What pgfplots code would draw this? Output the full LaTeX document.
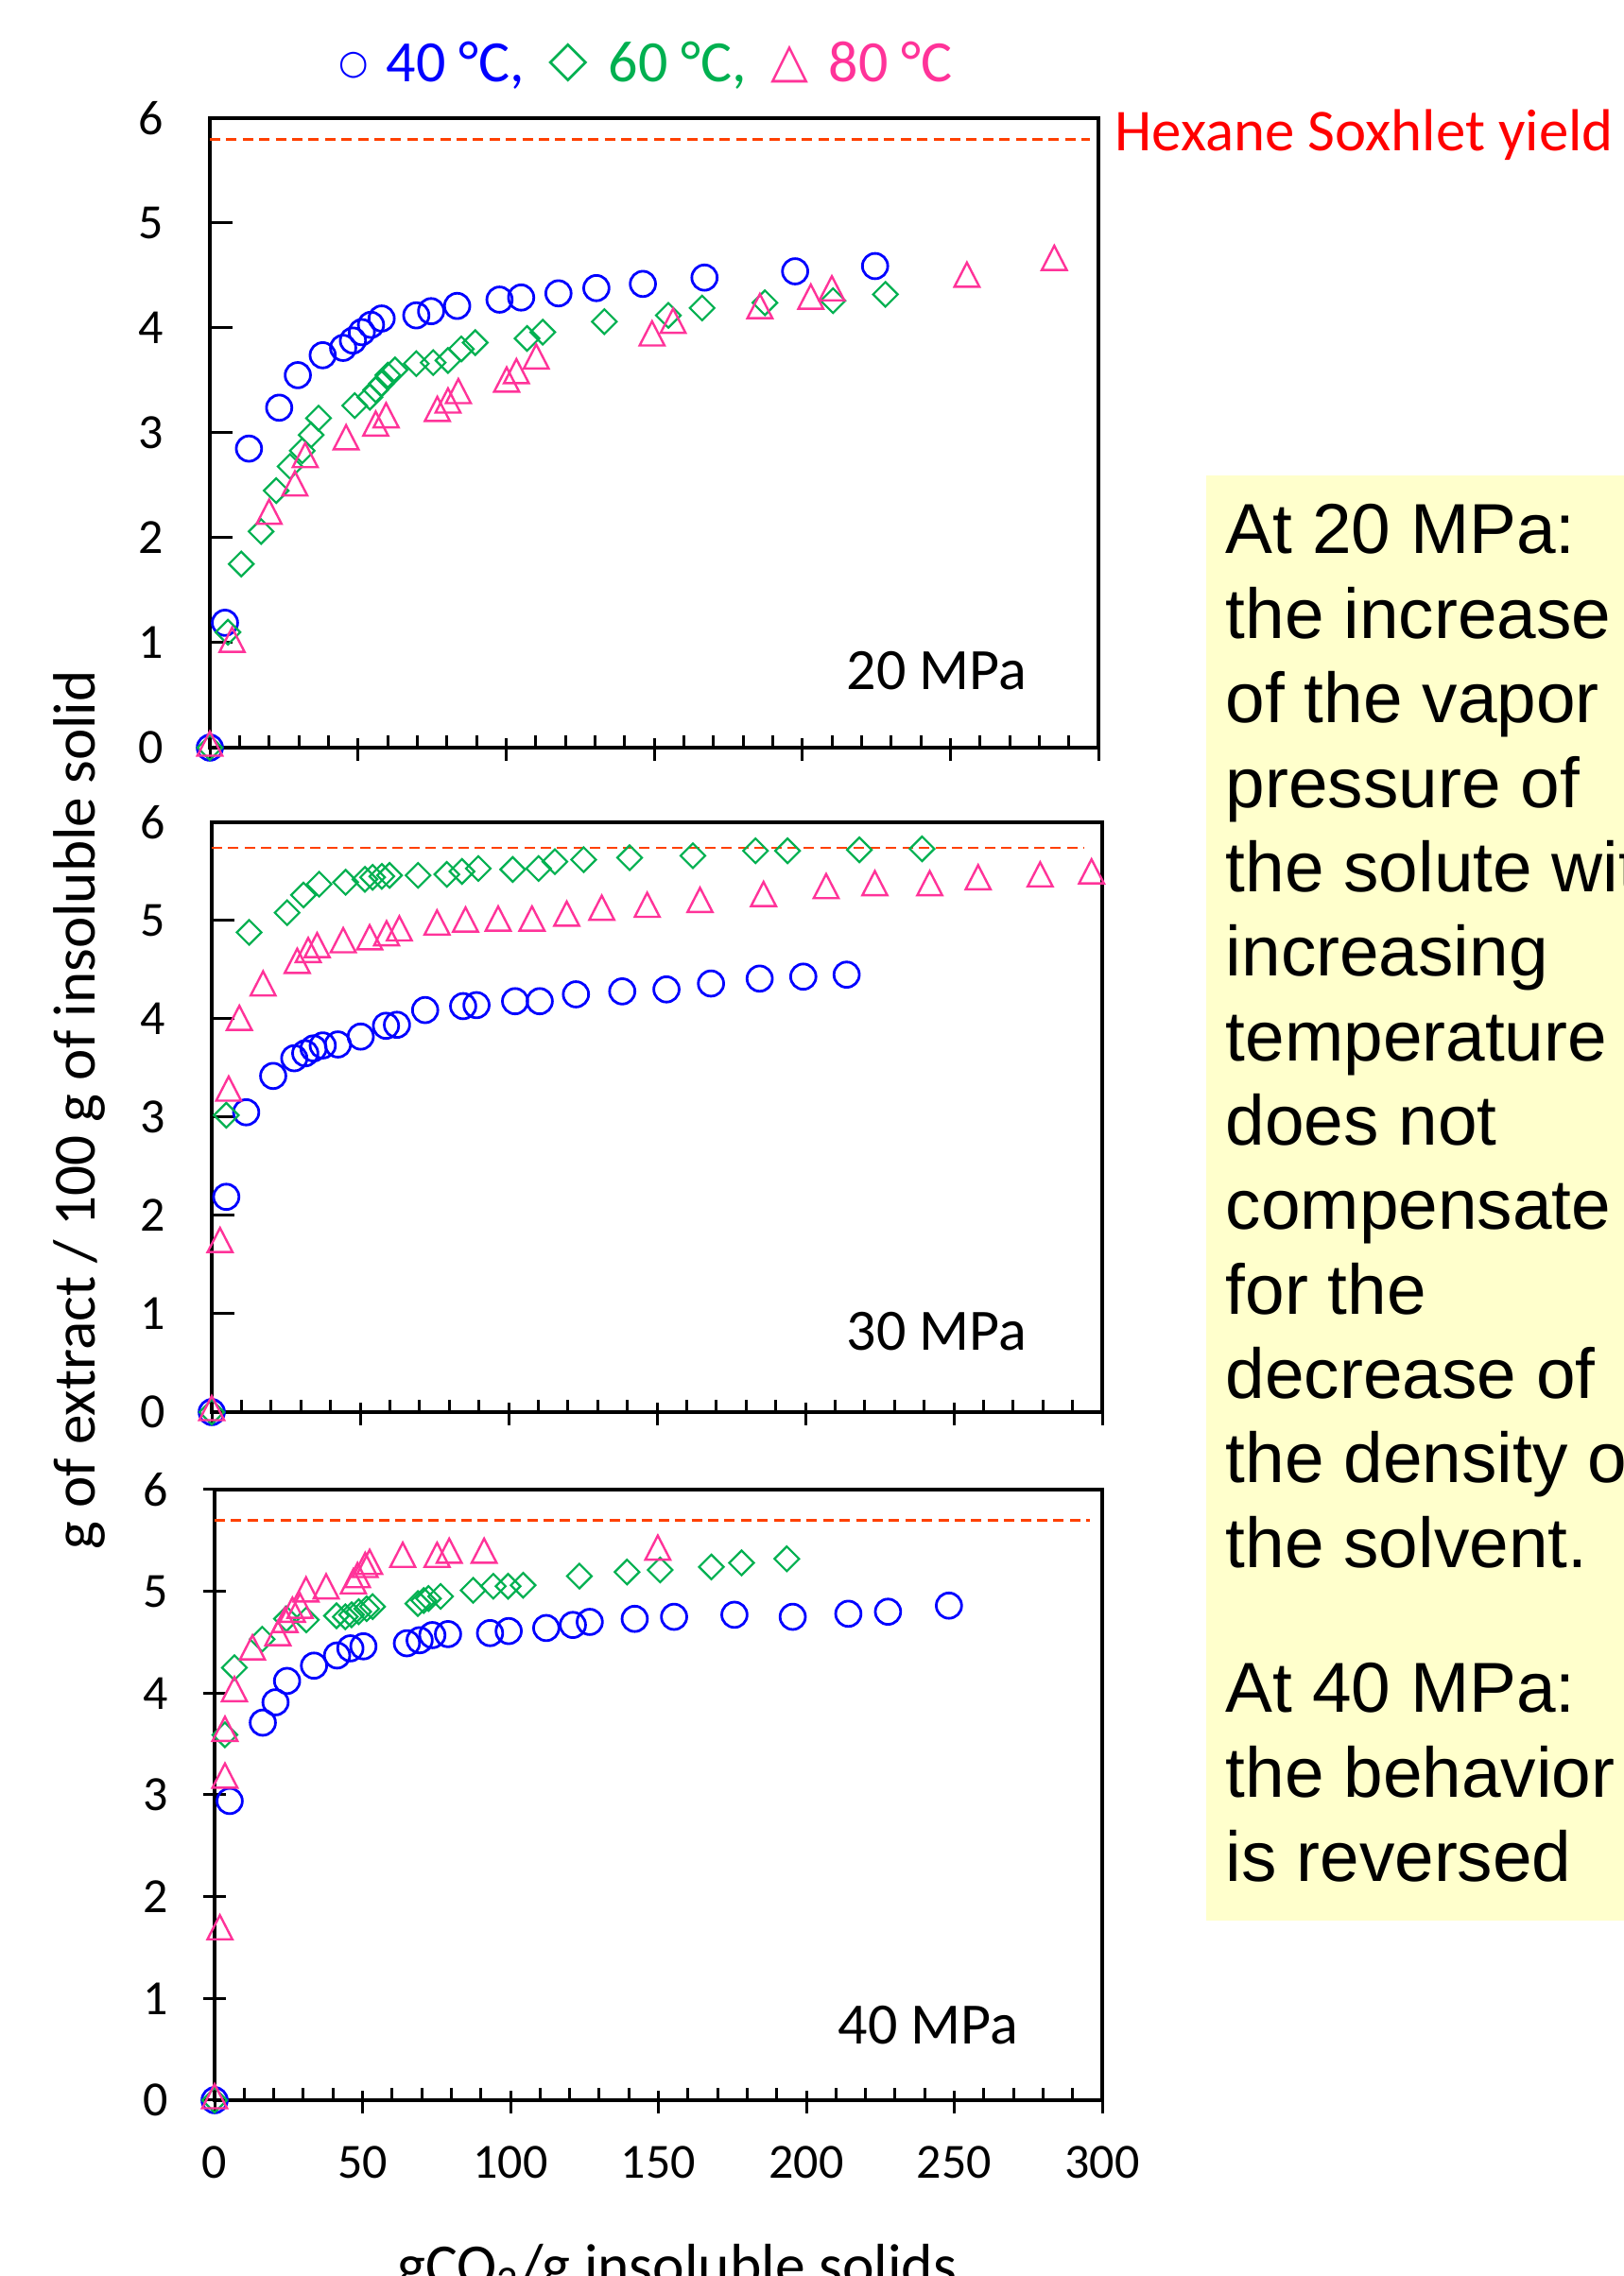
\documentclass[border=0pt]{standalone}
\usepackage{pgfplots}
\pgfplotsset{compat=1.18}
\usepackage{fontspec}
\setmainfont{Carlito}
\newfontfamily\arialf{Liberation Sans}
\newfontfamily\symf{DejaVu Sans}
\definecolor{cA}{RGB}{0,0,255}
\definecolor{cB}{RGB}{0,176,80}
\definecolor{cC}{RGB}{255,51,153}
\definecolor{cD}{RGB}{255,64,0}
\definecolor{cY}{RGB}{255,255,204}
\tikzset{plab/.style={anchor=base west, inner sep=0pt, font=\fontsize{15.5}{18}\selectfont}}
\pgfplotsset{
  panel/.style={
    scale only axis, clip=false, anchor=south west,
    xmin=0, xmax=300, ymin=0, ymax=6,
    xtick={0,50,...,300}, ytick={0,1,...,6},
    minor x tick num=4,
    tick pos=left, tick align=center,
    major tick length=6pt, minor tick length=3.25pt,
    axis line style={line width=1pt},
    tick style={black, line width=0.75pt},
    minor x tick style={yshift=1.625pt},
    major x tick style={yshift=-0.5pt},
    major y tick style={xshift=3pt},
    /pgf/number format/assume math mode=true,
    ticklabel style={font=\fontsize{13}{15}\selectfont},
    yticklabel style={inner sep=0pt, xshift=-9pt},
    xticklabel style={inner sep=0pt, yshift=-9pt},
  },
  s40/.style={only marks, mark=o, mark size=3.35pt, mark options={draw=cA, line width=0.7pt}},
  s60/.style={only marks, mark=square, mark size=2.3pt, mark options={draw=cB, rotate=45, line width=0.55pt}},
  s80/.style={only marks, mark=triangle, mark size=3.8pt, mark options={draw=cC, yscale=1.12, line width=0.6pt}},
  hex/.style={cD, line width=0.68pt, dash pattern=on 2.75pt off 1.6pt, no marks},
}
\begin{document}
\begin{tikzpicture}
% note box
\fill[cY] (319pt,94pt) rectangle (440pt,476.25pt);
\begin{scope}[every node/.style={anchor=base west, inner sep=0pt, font=\arialf\fontsize{18.7}{22}\selectfont}]
\node at (324pt,455.5pt) {At 20 MPa:};
\node at (324pt,433.16pt) {the increase};
\node at (324pt,410.83pt) {of the vapor};
\node at (324pt,388.49pt) {pressure of};
\node at (324pt,366.15pt) {the solute with};
\node at (324pt,343.81pt) {increasing};
\node at (324pt,321.48pt) {temperature};
\node at (324pt,299.14pt) {does not};
\node at (324pt,276.80pt) {compensate};
\node at (324pt,254.46pt) {for the};
\node at (324pt,232.13pt) {decrease of};
\node at (324pt,209.79pt) {the density of};
\node at (324pt,187.45pt) {the solvent.};
\node at (324pt,149.05pt) {At 40 MPa:};
\node at (324pt,126.7pt) {the behavior};
\node at (324pt,104.35pt) {is reversed};
\end{scope}
% legend text
\begin{scope}[every node/.style={inner sep=0pt}]
\node[text=cA, font=\symf\fontsize{9}{11}\selectfont] at (93.5pt,584.75pt) {○};
\node[text=cB, font=\symf\fontsize{13.5}{15}\selectfont] at (150.25pt,585.25pt) {◇};
\node[text=cC, font=\symf\fontsize{13}{15}\selectfont] at (208.9pt,585pt) {△};
\node[anchor=base west, text=cA, font=\fontsize{15.5}{18}\selectfont] at (102pt,580.25pt) {40 °C,};
\node[anchor=base west, text=cB, font=\fontsize{15.5}{18}\selectfont] at (160.75pt,580.25pt) {60 °C,};
\node[anchor=base west, text=cC, font=\fontsize{15.5}{18}\selectfont] at (219pt,580.25pt) {80 °C};
\end{scope}
\node[anchor=base west, inner sep=0pt, text=red, font=\fontsize{15.7}{18}\selectfont] at (294.75pt,562pt) {Hexane Soxhlet yield};
\node[anchor=base, inner sep=0pt, rotate=90, font=\fontsize{15.8}{18}\selectfont] at (25pt,308.4pt) {g of extract / 100 g of insoluble solid};
\node[anchor=base, inner sep=0pt, font=\fontsize{15.9}{18}\selectfont] at (181.1pt,-2.5pt) {gCO\textsubscript{2}/g insoluble solids.};

% ---------- 20 MPa ----------
\begin{axis}[panel, at={(55.5pt,404.25pt)}, width=235pt, height=166.5pt, xticklabels={}]
\addplot[hex] coordinates {(0,5.80) (297,5.80)};
\addplot[s40] coordinates {(0,0) (5.1,1.19) (13.2,2.85) (23.4,3.24) (29.7,3.55) (38.1,3.74) (45.0,3.81) (48.3,3.88) (51.3,3.96) (54.4,4.03) (58.0,4.09) (69.7,4.12) (74.7,4.16) (83.5,4.21) (97.8,4.27) (105.1,4.29) (117.7,4.33) (130.5,4.38) (146.2,4.42) (167.0,4.48) (197.6,4.54) (224.6,4.59)};
\addplot[s60] coordinates {(0,0) (6.1,1.10) (10.6,1.75) (17.3,2.06) (22.4,2.45) (27.1,2.68) (31.2,2.83) (34.2,2.98) (36.7,3.14) (48.9,3.26) (54.0,3.34) (56.0,3.41) (58.0,3.47) (60.1,3.55) (62.5,3.60) (69.7,3.66) (75.4,3.67) (80.4,3.69) (84.9,3.80) (89.6,3.86) (107.1,3.90) (112.4,3.96) (133.2,4.06) (154.8,4.12) (166.2,4.19) (187.4,4.24) (210.4,4.26) (228.1,4.32)};
\addplot[s80] coordinates {(0,0) (7.5,0.99) (20.0,2.21) (28.7,2.48) (32.2,2.75) (46.0,2.92) (56.0,3.05) (59.5,3.13) (76.8,3.19) (80.4,3.27) (83.9,3.36) (100.2,3.47) (103.5,3.55) (110.2,3.69) (149.3,3.91) (156.4,4.03) (185.7,4.17) (202.9,4.26) (210.0,4.34) (255.6,4.47) (285.1,4.63)};
\node[plab] at (axis cs:214.8,0.55) {20 MPa};
\end{axis}

% ---------- 30 MPa ----------
\begin{axis}[panel, at={(56pt,228.5pt)}, width=235.5pt, height=156pt, xticklabels={}]
\addplot[hex] coordinates {(0,5.74) (294,5.74)};
\addplot[s40] coordinates {(0,0) (4.9,2.19) (11.6,3.05) (20.7,3.42) (27.8,3.60) (31.5,3.65) (34.3,3.70) (37.4,3.73) (42.5,3.74) (50.2,3.82) (58.7,3.93) (62.4,3.94) (71.9,4.09) (84.7,4.13) (89.2,4.14) (102.2,4.18) (110.5,4.18) (122.7,4.25) (138.3,4.28) (153.2,4.30) (168.2,4.36) (184.6,4.41) (199.3,4.43) (213.9,4.45)};
\addplot[s60] coordinates {(0,0) (4.9,3.02) (12.6,4.88) (25.4,5.08) (30.9,5.26) (36.2,5.37) (45.1,5.39) (51.6,5.42) (54.2,5.44) (57.3,5.45) (59.9,5.46) (69.5,5.46) (79.2,5.47) (84.3,5.50) (89.8,5.53) (101.4,5.52) (110.1,5.53) (115.6,5.60) (125.3,5.62) (140.8,5.64) (162.1,5.66) (183.2,5.71) (194.0,5.71) (218.2,5.72) (239.3,5.73)};
\addplot[s80] coordinates {(0,0) (2.8,1.71) (5.7,3.25) (9.3,3.97) (17.3,4.32) (28.8,4.55) (32.5,4.66) (35.5,4.71) (44.3,4.76) (53.2,4.79) (58.9,4.83) (63.2,4.88) (75.9,4.94) (85.5,4.97) (96.5,4.98) (107.9,4.98) (119.6,5.03) (131.4,5.09) (146.7,5.12) (164.5,5.17) (185.9,5.23) (207.0,5.31) (223.4,5.34) (241.9,5.34) (258.2,5.40) (279.1,5.43) (296.4,5.46)};
\node[plab] at (axis cs:213.7,0.625) {30 MPa};
\end{axis}

% ---------- 40 MPa ----------
\begin{axis}[panel, at={(56.75pt,46.5pt)}, width=234.75pt, height=161.5pt, major y tick style={xshift=-3pt}]
\addplot[hex] coordinates {(0,5.70) (296,5.70)};
\addplot[s40] coordinates {(0,0) (5.1,2.94) (16.3,3.71) (20.6,3.91) (24.5,4.12) (33.6,4.27) (41.4,4.37) (45.9,4.44) (50.3,4.46) (65.0,4.49) (69.3,4.52) (73.6,4.57) (78.9,4.58) (93.1,4.59) (99.4,4.61) (112.1,4.64) (121.1,4.67) (126.8,4.70) (142.0,4.73) (155.3,4.75) (175.7,4.77) (195.4,4.75) (214.2,4.78) (227.6,4.80) (248.2,4.86)};
\addplot[s60] coordinates {(0,0) (3.5,3.59) (6.7,4.25) (16.1,4.53) (24.3,4.73) (31.0,4.72) (41.2,4.76) (44.2,4.75) (46.3,4.77) (48.7,4.80) (51.4,4.83) (53.4,4.85) (68.7,4.88) (70.7,4.91) (72.3,4.93) (76.4,4.95) (87.4,5.01) (94.2,5.05) (99.2,5.05) (104.3,5.06) (123.3,5.15) (139.4,5.19) (150.6,5.21) (167.9,5.24) (178.1,5.28) (193.4,5.32)};
\addplot[s80] coordinates {(0,0) (1.8,1.66) (3.5,3.15) (3.5,3.61) (6.7,4.00) (12.8,4.41) (21.4,4.55) (23.8,4.68) (26.3,4.78) (28.9,4.82) (30.9,4.98) (37.7,5.01) (46.9,5.06) (48.3,5.12) (50.9,5.22) (52.4,5.25) (63.6,5.32) (75.2,5.32) (79.3,5.36) (91.1,5.36) (149.8,5.39)};
\node[plab] at (axis cs:210.5,0.55) {40 MPa};
\end{axis}
\pgfresetboundingbox
\path[use as bounding box] (0pt,0pt) rectangle (429.25pt,602pt);
\end{tikzpicture}
\end{document}
